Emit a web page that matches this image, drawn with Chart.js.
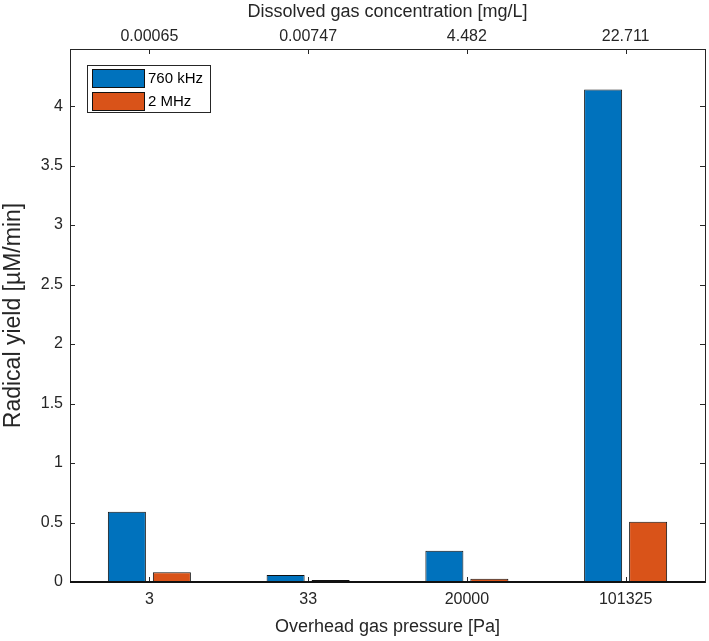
<!DOCTYPE html>
<html>
<head>
<meta charset="utf-8">
<script src="https://cdn.jsdelivr.net/npm/chart.js@4"></script>
<style>
  html, body { margin: 0; padding: 0; background: #fff; }
  #wrap { width: 709px; height: 641px; position: relative; }
</style>
</head>
<body>
<div id="wrap"><canvas id="myChart"></canvas></div>
<script>
// data
const pressures = ["3", "33", "20000", "101325"];
const concentrations = ["0.00065", "0.00747", "4.482", "22.711"];
const yield760kHz = [0.59, 0.059, 0.263, 4.14];
const yield2MHz = [0.081, 0.016, 0.027, 0.506];
const seriesNames = ["760 kHz", "2 MHz"];

const axisColor = "#262626";
const font = "'Liberation Sans', Arial, sans-serif";

// MATLAB style inward ticks on all four sides
const inwardTicks = {
  id: "inwardTicks",
  afterDatasetsDraw(chart) {
    const ctx = chart.ctx;
    const area = chart.chartArea;
    const x = chart.scales.x;
    const y = chart.scales.y;
    const len = 5;
    ctx.save();
    ctx.strokeStyle = axisColor;
    ctx.lineWidth = 1;
    ctx.beginPath();
    y.ticks.forEach(t => {
      const py = Math.round(y.getPixelForValue(t.value)) + 0.5;
      ctx.moveTo(area.left, py);
      ctx.lineTo(area.left + len, py);
      ctx.moveTo(area.right, py);
      ctx.lineTo(area.right - len, py);
    });
    for (let i = 0; i < pressures.length; i++) {
      const px = Math.round(x.getPixelForValue(i)) + 0.5;
      ctx.moveTo(px, area.bottom);
      ctx.lineTo(px, area.bottom - len);
      ctx.moveTo(px, area.top);
      ctx.lineTo(px, area.top + len);
    }
    ctx.stroke();
    // baseline
    ctx.lineWidth = 2;
    ctx.strokeStyle = "#111";
    ctx.beginPath();
    const by = y.getPixelForValue(0);
    ctx.moveTo(area.left, by);
    ctx.lineTo(area.right, by);
    ctx.stroke();
    ctx.restore();
  }
};

// legend box inside the axes, top left
const boxLegend = {
  id: "boxLegend",
  afterDraw(chart) {
    const ctx = chart.ctx;
    const area = chart.chartArea;
    const bx = area.left + 17, by = area.top + 16;
    const bw = 123, bh = 47;
    ctx.save();
    ctx.fillStyle = "#fff";
    ctx.fillRect(bx, by, bw, bh);
    ctx.strokeStyle = axisColor;
    ctx.lineWidth = 1;
    ctx.strokeRect(bx + 0.5, by + 0.5, bw, bh);
    chart.data.datasets.forEach((ds, i) => {
      const sy = by + 4 + i * 23;
      ctx.fillStyle = ds.backgroundColor;
      ctx.fillRect(bx + 5, sy, 52, 18);
      ctx.strokeStyle = "#111";
      ctx.strokeRect(bx + 5.5, sy + 0.5, 52, 18);
      ctx.fillStyle = "#000";
      ctx.font = "15px " + font;
      ctx.textBaseline = "middle";
      ctx.fillText(ds.label, bx + 61, sy + 10);
    });
    ctx.restore();
  }
};

const data = {
  labels: pressures,
  datasets: [
    {
      label: seriesNames[0],
      data: yield760kHz,
      backgroundColor: "#0072BD",
      borderColor: "#111",
      borderWidth: 1,
      borderSkipped: false,
      categoryPercentage: 0.567,
      barPercentage: 0.845,
      xAxisID: "x",
      yAxisID: "y",
    },
    {
      label: seriesNames[1],
      data: yield2MHz,
      backgroundColor: "#D95319",
      borderColor: "#111",
      borderWidth: 1,
      borderSkipped: false,
      categoryPercentage: 0.567,
      barPercentage: 0.845,
      xAxisID: "x",
      yAxisID: "y",
    },
  ],
};

const config = {
  type: "bar",
  data,
  options: {
    responsive: true,
    maintainAspectRatio: false,
    animation: false,
    layout: { padding: 0 },
    plugins: {
      legend: { display: false },
      tooltip: { enabled: false },
    },
    scales: {
      x: {
        type: "category",
        position: "bottom",
        offset: true,
        grid: { display: false, drawTicks: false },
        border: { display: true, color: axisColor, width: 1 },
        ticks: { color: axisColor, font: { family: font, size: 16 }, padding: 8, maxRotation: 0 },
        title: {
          display: true,
          text: "Overhead gas pressure [Pa]",
          color: axisColor,
          font: { family: font, size: 18 },
          padding: { top: 0, bottom: 3 },
        },
        afterFit(scale) { scale.height = 59; },
      },
      x2: {
        type: "category",
        position: "top",
        labels: concentrations,
        offset: true,
        grid: { display: false, drawTicks: false },
        border: { display: true, color: axisColor, width: 1 },
        ticks: { color: axisColor, font: { family: font, size: 16 }, padding: 3, maxRotation: 0 },
        title: {
          display: true,
          text: "Dissolved gas concentration [mg/L]",
          color: axisColor,
          font: { family: font, size: 18 },
          padding: { top: 1, bottom: 0 },
        },
        afterFit(scale) { scale.height = 49; },
      },
      y: {
        position: "left",
        min: 0,
        max: 4.48,
        grid: { display: false, drawTicks: false },
        border: { display: true, color: axisColor, width: 1 },
        ticks: {
          stepSize: 0.5,
          includeBounds: false,
          color: axisColor,
          font: { family: font, size: 16 },
          padding: 7,
          callback: v => String(v),
        },
        title: {
          display: true,
          text: "Radical yield [\u00b5M/min]",
          color: axisColor,
          font: { family: font, size: 23 },
          padding: { top: 0, bottom: 0 },
        },
        afterFit(scale) { scale.width = 70; },
      },
      y2: {
        position: "right",
        min: 0,
        max: 4.48,
        grid: { display: false, drawTicks: false },
        border: { display: true, color: axisColor, width: 1 },
        ticks: { display: false },
        afterFit(scale) { scale.width = 4; },
      },
    },
  },
  plugins: [inwardTicks, boxLegend],
};

const myChart = new Chart(document.getElementById("myChart"), config);
</script>
</body>
</html>
